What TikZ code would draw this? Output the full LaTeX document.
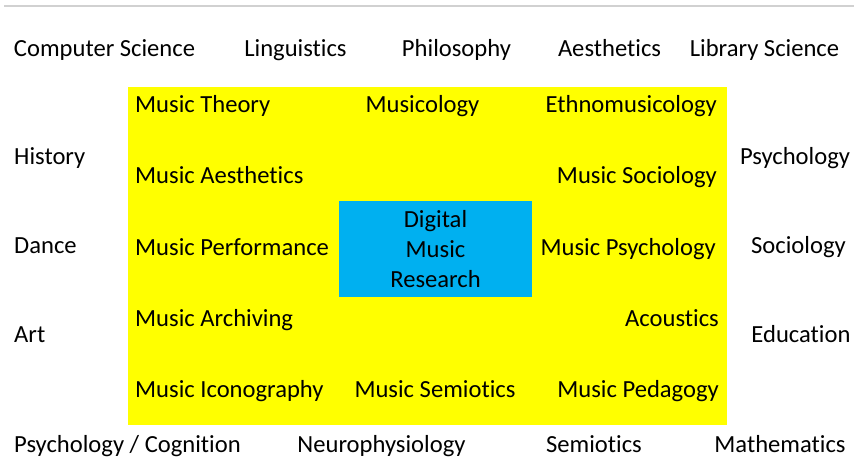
\documentclass[tikz,border=0pt]{standalone}
\usepackage{fontspec}
\setmainfont{Carlito}[Ligatures=NoCommon]
\usepackage{xcolor}
\definecolor{fieldyellow}{HTML}{FFFF00}
\definecolor{coreblue}{HTML}{00B0F0}

\begin{document}
\begin{tikzpicture}[
        x=1pt, y=-1pt,
        field/.style={
            inner sep=0pt,
            text height=17pt, % same height for all labels
            text depth=0pt,
            font=\fontsize{24.6}{30}\selectfont
        },
        core/.style={
            inner sep=0pt,
            align=center,
            font=\fontsize{24.6}{30}\selectfont
        }
    ]
        \useasboundingbox (0,0) rectangle (854,457);
        \draw[color=black!18, line width=1.2pt] (4,6) -- (854,6);

        % yellow area and the central box
        \fill[fieldyellow] (128,87) rectangle (727,425);
        \fill[coreblue] (339,201) rectangle (532,297);
        \node (dmr) [core] at (435.5,249) {Digital\\Music\\Research};

        % top row
        \node (cs) [field] at (104.5,48) {Computer Science};
        \node (ling) [field] at (295.5,48) {Linguistics};
        \node (phil) [field] at (456.5,48) {Philosophy};
        \node (aes) [field] at (609.5,48) {Aesthetics};
        \node (lib) [field] at (764.5,48) {Library Science};

        % left and right columns
        \node (hist) [field, anchor=west] at (14,156) {History};
        \node (dance) [field, anchor=west] at (14,245) {Dance};
        \node (art) [field, anchor=west] at (14,334) {Art};
        \node (psy) [field] at (795,156) {Psychology};
        \node (soc) [field] at (798.5,245) {Sociology};
        \node (edu) [field] at (801,334) {Education};

        % bottom row
        \node (cog) [field] at (127.5,444) {Psychology / Cognition};
        \node (neuro) [field] at (381.5,444) {Neurophysiology};
        \node (semio) [field] at (594,444) {Semiotics};
        \node (math) [field] at (780,444) {Mathematics};

        % music fields, left side
        \node (theory) [field, anchor=west] at (135,104) {Music Theory};
        \node (maes) [field, anchor=west] at (135,175) {Music Aesthetics};
        \node (perf) [field, anchor=west] at (135,247) {Music Performance};
        \node (arch) [field, anchor=west] at (135,318) {Music Archiving};
        \node (icon) [field, anchor=west] at (135,389) {Music Iconography};

        % music fields, middle
        \node (mcol) [field] at (422.5,104) {Musicology};
        \node (msemio) [field] at (435,389) {Music Semiotics};

        % music fields, right side
        \node (ethno) [field, anchor=east] at (717,104) {Ethnomusicology};
        \node (msoc) [field, anchor=east] at (717,175) {Music Sociology};
        \node (mpsy) [field, anchor=east] at (716,247) {Music Psychology};
        \node (acou) [field, anchor=east] at (719,318) {Acoustics};
        \node (ped) [field, anchor=east] at (719,389) {Music Pedagogy};
    \end{tikzpicture}
\end{document}
